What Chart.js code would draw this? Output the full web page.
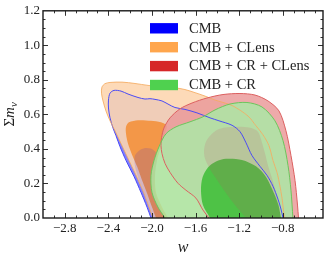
<!DOCTYPE html>
<html lang="en">
<head>
<meta charset="UTF-8">
<title>w vs sum of neutrino masses</title>
<script src="https://cdn.jsdelivr.net/npm/chart.js"></script>
<style>
  html, body { margin: 0; padding: 0; background: #fff; }
</style>
</head>
<body>
<canvas id="contours" width="332" height="263"></canvas>
<script>
// legend entries
const seriesNames = ['CMB', 'CMB + CLens', 'CMB + CR + CLens', 'CMB + CR'];
const legendColors = ['#0000ff', '#ffa64d', '#d62728', '#4fd14f'];

// tick labels
const wTicks = [-2.8, -2.4, -2.0, -1.6, -1.2, -0.8];
const mnuTicks = [0.0, 0.2, 0.4, 0.6, 0.8, 1.0, 1.2];

// contour outlines (w, sum m_nu), each starts and ends on the m_nu = 0 edge
// CMB
const cmb95W = [-2.009,-2.045,-2.101,-2.165,-2.238,-2.293,-2.330,-2.358,-2.385,-2.399,-2.399,-2.385,-2.348,-2.284,-2.220,-2.128,-2.064,-2.018,-1.972,-1.908,-1.853,-1.789,-1.697,-1.587,-1.467,-1.385,-1.265,-1.192,-1.137,-1.082,-1.008,-0.944,-0.889,-0.843,-0.816,-0.797];
const cmb95M = [0,0.063,0.149,0.241,0.333,0.413,0.477,0.522,0.580,0.637,0.683,0.723,0.739,0.735,0.718,0.698,0.689,0.691,0.687,0.678,0.660,0.640,0.629,0.609,0.580,0.563,0.537,0.500,0.436,0.362,0.299,0.247,0.184,0.109,0.052,0];
const cmb68W = [-1.990,-2.027,-2.082,-2.128,-2.160,-2.156,-2.119,-2.064,-2.009,-1.963,-1.954,-1.972,-1.972,-1.926,-1.880];
const cmb68M = [0,0.063,0.149,0.235,0.316,0.362,0.390,0.405,0.402,0.379,0.333,0.247,0.149,0.063,0];

// CMB + CLens
const clens95W = [-1.990,-2.027,-2.078,-2.137,-2.211,-2.284,-2.339,-2.385,-2.422,-2.449,-2.463,-2.459,-2.431,-2.385,-2.275,-2.156,-2.036,-1.908,-1.789,-1.697,-1.605,-1.513,-1.421,-1.330,-1.256,-1.119,-1.045,-0.981,-0.926,-0.889,-0.852,-0.825,-0.806,-0.793,-0.784];
const clens95M = [0,0.063,0.149,0.235,0.333,0.431,0.505,0.563,0.620,0.678,0.723,0.758,0.778,0.785,0.787,0.779,0.768,0.760,0.754,0.744,0.726,0.706,0.683,0.666,0.649,0.591,0.534,0.482,0.419,0.333,0.264,0.184,0.115,0.046,0];
const clens68W = [-1.963,-2.000,-2.045,-2.091,-2.137,-2.183,-2.220,-2.238,-2.238,-2.211,-2.128,-2.009,-1.917,-1.871,-1.862,-1.880,-1.917,-1.954,-1.972,-1.963,-1.908,-1.853];
const clens68M = [0,0.063,0.144,0.218,0.299,0.367,0.431,0.488,0.528,0.554,0.566,0.563,0.554,0.540,0.528,0.488,0.413,0.333,0.247,0.149,0.063,0];

// CMB + CR + CLens
const crClens95W = [-1.476,-1.532,-1.596,-1.688,-1.761,-1.834,-1.880,-1.908,-1.917,-1.912,-1.889,-1.834,-1.743,-1.632,-1.495,-1.348,-1.192,-1.054,-0.935,-0.834,-0.770,-0.724,-0.687,-0.664,-0.655];
const crClens95M = [0,0.046,0.115,0.161,0.201,0.264,0.316,0.373,0.419,0.465,0.522,0.580,0.632,0.666,0.695,0.715,0.721,0.712,0.678,0.620,0.505,0.362,0.218,0.075,0];
const crClens68W = [-1.137,-1.238,-1.339,-1.431,-1.476,-1.513,-1.522,-1.504,-1.449,-1.376,-1.229,-1.100,-1.027,-0.990,-0.962,-0.935,-0.898,-0.862,-0.834,-0.816];
const crClens68M = [0,0.075,0.161,0.247,0.293,0.344,0.390,0.442,0.488,0.517,0.528,0.522,0.500,0.436,0.373,0.304,0.230,0.149,0.075,0];

// CMB + CR
const cr95W = [-1.880,-1.945,-2.000,-2.009,-1.981,-1.935,-1.871,-1.779,-1.651,-1.532,-1.421,-1.284,-1.128,-0.990,-0.871,-0.797,-0.751,-0.724,-0.706];
const cr95M = [0,0.063,0.149,0.247,0.333,0.413,0.488,0.528,0.557,0.586,0.626,0.660,0.669,0.643,0.563,0.448,0.304,0.161,0];
const cr68W = [-1.467,-1.532,-1.550,-1.536,-1.486,-1.412,-1.320,-1.174,-1.045,-0.953,-0.880,-0.839,-0.816];
const cr68M = [0,0.075,0.161,0.235,0.293,0.327,0.343,0.336,0.299,0.238,0.144,0.075,0];

const serif = "'Liberation Serif', 'DejaVu Serif', serif";

function pts(ws, ms) {
    return ws.map((w, i) => ({ x: w, y: ms[i] }));
}

// filled region, layer 0 is drawn first (bottom)
function area(label, ws, ms, color, layer) {
    return {
        label: label, data: pts(ws, ms), showLine: true, fill: 'shape',
        backgroundColor: color, borderColor: 'rgba(0,0,0,0)', borderWidth: 1,
        pointRadius: 0, tension: 0.3, order: 100 - layer
    };
}

function outline(label, ws, ms, color, layer) {
    return {
        label: label, data: pts(ws, ms), showLine: true, fill: false,
        borderColor: color, borderWidth: 1, pointRadius: 0, tension: 0.3, order: 100 - layer
    };
}

const datasets = [
    area('CMB', cmb95W, cmb95M, 'rgba(0,0,255,0.5)', 0),
    area('CMB + CLens', clens95W, clens95M, 'rgba(253,214,176,0.9)', 1),
    area('CMB + CLens', clens68W, clens68M, 'rgba(243,146,62,0.92)', 2),
    area('CMB', cmb68W, cmb68M, 'rgba(0,0,255,0.12)', 3),
    area('CMB + CR + CLens', crClens95W, crClens95M, 'rgba(235,155,155,0.85)', 4),
    area('CMB + CR', cr95W, cr95M, 'rgba(167,236,166,0.8)', 5),
    area('CMB + CR', cr68W, cr68M, 'rgba(52,188,46,0.8)', 6),
    area('CMB + CR + CLens', crClens68W, crClens68M, 'rgba(200,60,100,0.15)', 7),
    outline('CMB', cmb95W, cmb95M, '#4a4af5', 8),
    outline('CMB + CLens', clens95W, clens95M, 'rgba(245,172,98,0.85)', 9),
    outline('CMB + CR + CLens', crClens95W, crClens95M, '#dc6060', 10),
    outline('CMB + CR', cr95W, cr95M, '#6cc55c', 11)
];

// inward ticks on all four sides, frame, legend and the y label
const decor = {
    id: 'decor',
    afterDraw(chart) {
        const ctx = chart.ctx;
        const { left, right, top, bottom } = chart.chartArea;
        const xs = chart.scales.x, ys = chart.scales.y;
        ctx.save();
        ctx.strokeStyle = '#1a1a1a';
        ctx.lineWidth = 0.9;
        ctx.beginPath();
        for (let i = -29; i <= -5; i++) {
            const v = i / 10;
            const len = wTicks.some(t => Math.abs(t - v) < 1e-6) ? 5 : 2.5;
            const px = Math.round(xs.getPixelForValue(v)) + 0.5;
            ctx.moveTo(px, bottom); ctx.lineTo(px, bottom - len);
            ctx.moveTo(px, top); ctx.lineTo(px, top + len);
        }
        for (let i = 1; i < 24; i++) {
            const v = i * 0.05;
            const len = (i % 4 === 0) ? 5 : 2.5;
            const py = Math.round(ys.getPixelForValue(v)) + 0.5;
            ctx.moveTo(left, py); ctx.lineTo(left + len, py);
            ctx.moveTo(right, py); ctx.lineTo(right - len, py);
        }
        ctx.stroke();
        ctx.lineWidth = 1.4;
        ctx.strokeRect(left, top, right - left, bottom - top);

        // legend
        ctx.font = '14.5px ' + serif;
        ctx.textBaseline = 'middle';
        ctx.textAlign = 'left';
        seriesNames.forEach((name, i) => {
            const cy = top + 17.5 + i * 18.9;
            ctx.fillStyle = legendColors[i];
            ctx.fillRect(left + 107, cy - 5.2, 28, 10.4);
            ctx.fillStyle = '#222';
            ctx.fillText(name, left + 146, cy + 0.5);
        });

        // y title: Sigma m_nu
        ctx.translate(9, (top + bottom) / 2);
        ctx.rotate(-Math.PI / 2);
        const f1 = '15px ' + serif, f2 = 'italic 15px ' + serif, f3 = 'italic 11px ' + serif;
        ctx.textBaseline = 'alphabetic';
        ctx.font = f1; const w1 = ctx.measureText('\u03a3').width;
        ctx.font = f2; const w2 = ctx.measureText('m').width;
        ctx.font = f3; const w3 = ctx.measureText('\u03bd').width;
        let x0 = -(w1 + w2 + w3) / 2;
        ctx.fillStyle = '#222';
        ctx.font = f1; ctx.fillText('\u03a3', x0, 5); x0 += w1;
        ctx.font = f2; ctx.fillText('m', x0, 5); x0 += w2;
        ctx.font = f3; ctx.fillText('\u03bd', x0, 8);
        ctx.restore();
    }
};

new Chart(document.getElementById('contours'), {
    type: 'scatter',
    data: { datasets: datasets },
    options: {
        responsive: false,
        animation: false,
        events: [],
        layout: { padding: { top: 9, right: 9, left: 0, bottom: 0 } },
        plugins: { legend: { display: false }, tooltip: { enabled: false } },
        scales: {
            x: {
                type: 'linear', min: -3.0, max: -0.43,
                grid: { display: false, drawTicks: false },
                border: { display: false },
                afterBuildTicks: (s) => { s.ticks = wTicks.map(v => ({ value: v })); },
                afterFit: (s) => { s.height = 45; },
                ticks: {
                    padding: 3, color: '#222', font: { family: serif, size: 13 },
                    callback: (v) => '\u2212' + Math.abs(v).toFixed(1)
                },
                title: {
                    display: true, text: 'w', color: '#222',
                    font: { family: serif, size: 16, style: 'italic' },
                    padding: { top: 0, bottom: 6 }
                }
            },
            y: {
                type: 'linear', min: 0, max: 1.2,
                grid: { display: false, drawTicks: false },
                border: { display: false },
                afterBuildTicks: (s) => { s.ticks = mnuTicks.map(v => ({ value: v })); },
                afterFit: (s) => { s.width = 43; },
                ticks: {
                    padding: 3, color: '#222', font: { family: serif, size: 13 },
                    callback: (v) => v.toFixed(1)
                }
            }
        }
    },
    plugins: [decor]
});
</script>
</body>
</html>
